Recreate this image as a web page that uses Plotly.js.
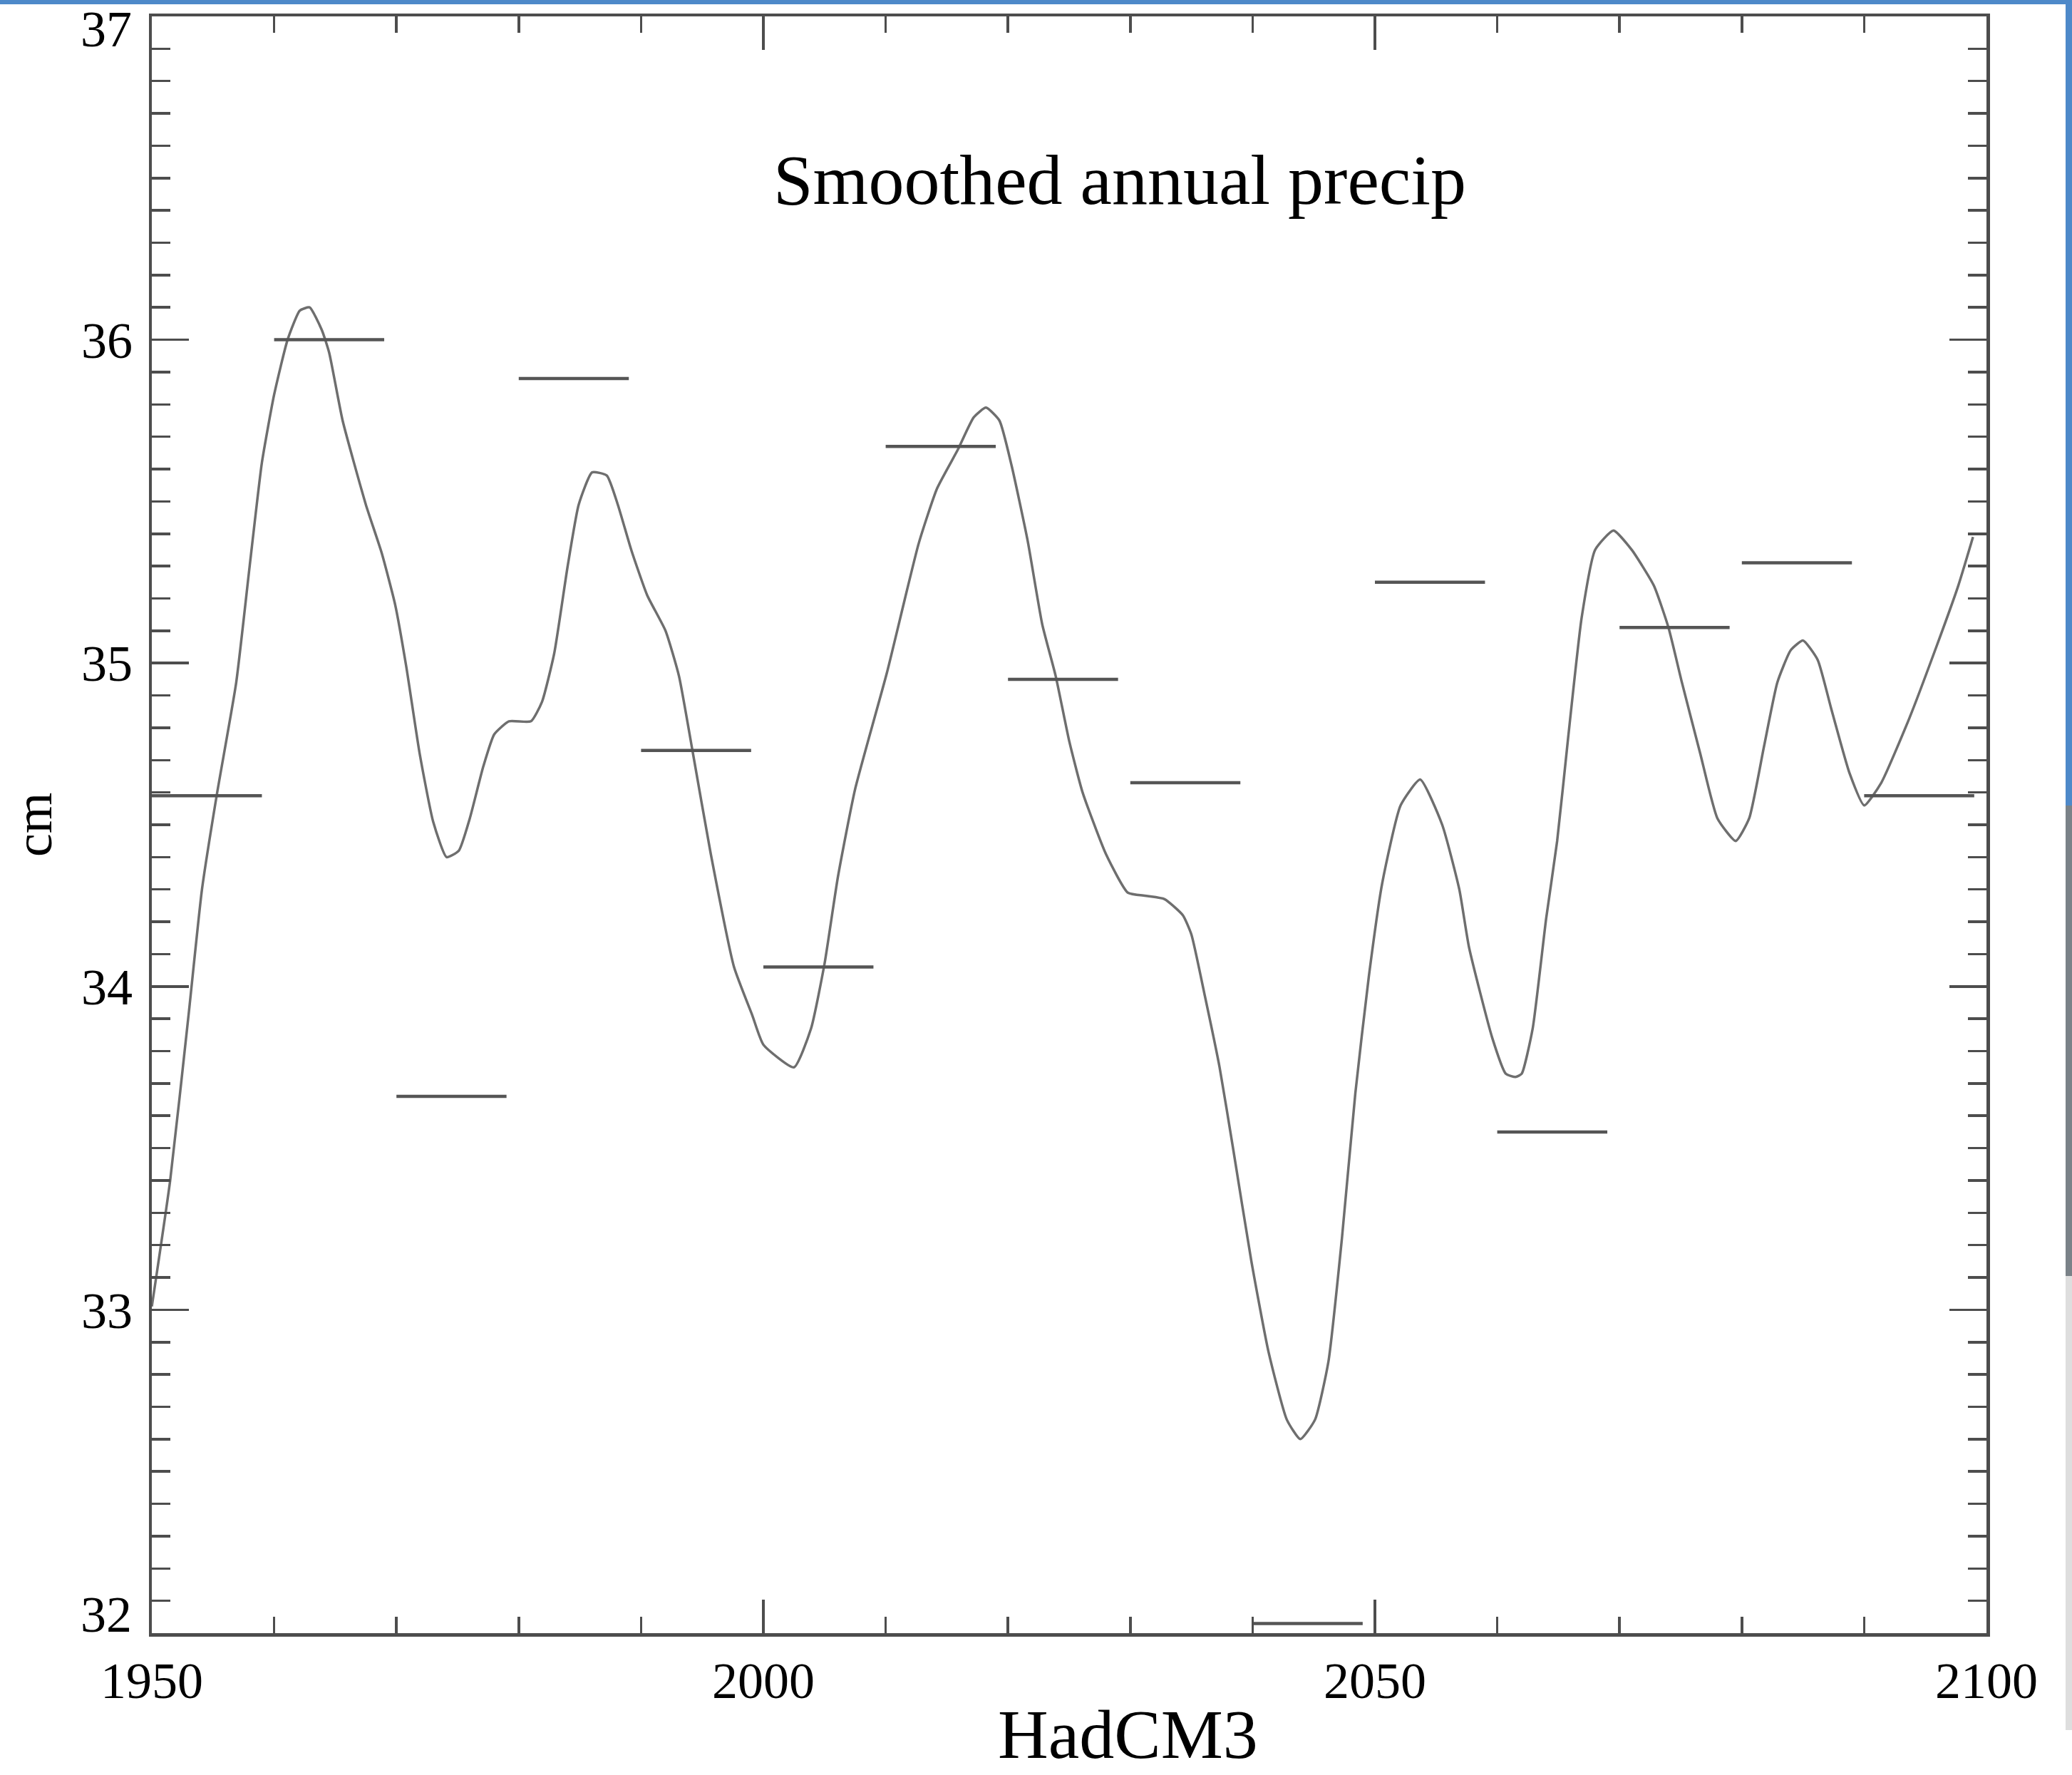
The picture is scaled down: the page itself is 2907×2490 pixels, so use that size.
<!DOCTYPE html>
<html>
<head>
<meta charset="utf-8">
<script src="https://cdn.plot.ly/plotly-3.0.1.min.js"></script>
<style>
  html, body { margin: 0; padding: 0; background: #ffffff; }
  #chart { width: 2907px; height: 2490px; }
</style>
</head>
<body>
<div id="chart"></div>
<script>
// Smoothed annual precipitation (cm), HadCM3 run, 1950-2100
const curveYears = [
  1950.0, 1951.5, 1953.0, 1954.1, 1955.3, 1956.9, 1958.0, 1959.0, 1960.0, 1961.1,
  1962.1, 1962.9, 1963.9, 1964.5, 1965.6, 1967.5, 1968.8, 1969.9, 1970.8, 1971.9,
  1973.0, 1974.1, 1975.1, 1976.0, 1977.1, 1978.0, 1979.2, 1981.0, 1981.9, 1982.9,
  1984.0, 1984.9, 1986.0, 1987.2, 1988.1, 1989.2, 1990.5, 1992.0, 1993.1, 1994.2,
  1995.7, 1997.6, 1999.1, 2000.0, 2002.5, 2003.9, 2005.0, 2006.1, 2007.5, 2010.1,
  2012.7, 2014.2, 2015.9, 2017.2, 2018.2, 2019.3, 2020.3, 2021.6, 2022.8, 2023.9,
  2025.0, 2026.1, 2028.0, 2029.8, 2031.3, 2032.8, 2034.3, 2035.0, 2036.1, 2037.3,
  2038.4, 2039.9, 2041.3, 2042.8, 2043.9, 2045.1, 2046.2, 2047.3, 2048.4, 2049.5,
  2050.6, 2052.1, 2053.7, 2055.5, 2056.9, 2057.7, 2059.6, 2060.7, 2061.5, 2062.0,
  2062.9, 2064.0, 2064.9, 2065.8, 2066.9, 2068.0, 2069.5, 2071.0, 2072.8, 2074.0,
  2075.1, 2076.6, 2078.0, 2079.5, 2080.6, 2081.8, 2082.9, 2084.0, 2085.0, 2086.2,
  2087.3, 2088.8, 2090.0, 2091.4, 2093.7, 2095.9, 2097.7, 2098.9
];
const curvePrecip = [
  33.01, 33.40, 33.91, 34.30, 34.59, 34.94, 35.30, 35.62, 35.83, 36.00,
  36.09, 36.10, 36.03, 35.96, 35.75, 35.49, 35.34, 35.18, 34.99, 34.72,
  34.51, 34.40, 34.42, 34.52, 34.68, 34.78, 34.82, 34.82, 34.88, 35.03,
  35.30, 35.49, 35.59, 35.58, 35.49, 35.35, 35.21, 35.10, 34.96, 34.73,
  34.41, 34.06, 33.91, 33.82, 33.75, 33.87, 34.07, 34.34, 34.61, 34.97,
  35.37, 35.54, 35.66, 35.76, 35.79, 35.75, 35.61, 35.38, 35.12, 34.96,
  34.76, 34.60, 34.41, 34.29, 34.28, 34.27, 34.22, 34.16, 33.97, 33.75,
  33.50, 33.15, 32.87, 32.66, 32.60, 32.66, 32.84, 33.22, 33.67, 34.03,
  34.32, 34.56, 34.64, 34.50, 34.30, 34.12, 33.84, 33.73, 33.72, 33.73,
  33.87, 34.21, 34.45, 34.77, 35.14, 35.35, 35.41, 35.35, 35.24, 35.11,
  34.94, 34.72, 34.52, 34.45, 34.52, 34.74, 34.94, 35.04, 35.07, 35.01,
  34.86, 34.66, 34.56, 34.63, 34.83, 35.05, 35.24, 35.39
];

// Decadal means, one per decade start year
const decadeStarts = [1950, 1960, 1970, 1980, 1990, 2000, 2010, 2020, 2030, 2040, 2050, 2060, 2070, 2080, 2090];
const decadeMeans  = [34.59, 36.00, 33.66, 35.88, 34.73, 34.06, 35.67, 34.95, 34.63, 32.03, 35.25, 33.55, 35.11, 35.31, 34.59];
const decadeSpan = 9;

// Axis labels
const xTickVals = [1950, 2000, 2050, 2100];
const xTickText = ['1950', '2000', '2050', '2100'];
const yTickVals = [33, 34, 35, 36];
const yTickText = ['33', '34', '35', '36'];
const yEndVals  = [37, 32];
const yEndText  = ['37', '32'];

const chartTitle = 'Smoothed annual precip';
const xTitle = 'HadCM3';
const yTitle = 'cm';

// Segments for the decadal means, separated by gaps
const segX = [], segY = [];
decadeStarts.forEach((d, i) => {
  segX.push(d, d + decadeSpan, null);
  segY.push(decadeMeans[i], decadeMeans[i], null);
});

const serif = 'Liberation Serif, Times New Roman, serif';
const axisColor = '#4d4d4d';

const traces = [
  {
    x: curveYears, y: curvePrecip, type: 'scatter', mode: 'lines',
    line: { color: '#6e6e6e', width: 3.5, shape: 'spline', smoothing: 0.5 },
    hoverinfo: 'skip', showlegend: false
  },
  {
    x: segX, y: segY, type: 'scatter', mode: 'lines',
    line: { color: '#555555', width: 4.5 },
    connectgaps: false, hoverinfo: 'skip', showlegend: false
  }
];

// Pixel helpers for decorative page edges, in paper units
const L = 213, R = 2787, T = 23, B = 2291, W = 2907, H = 2490;
const px = v => (v - L) / (R - L);
const py = v => (B - v) / (B - T);

const edgeShapes = [
  { type: 'rect', xref: 'paper', yref: 'paper', x0: px(0), x1: px(W), y0: py(0), y1: py(6), fillcolor: '#4e89c9', line: { width: 0 }, layer: 'above' },
  { type: 'rect', xref: 'paper', yref: 'paper', x0: px(2898), x1: px(W), y0: py(0), y1: py(1130), fillcolor: '#4e89c9', line: { width: 0 }, layer: 'above' },
  { type: 'rect', xref: 'paper', yref: 'paper', x0: px(2898), x1: px(W), y0: py(1130), y1: py(1790), fillcolor: '#7a8288', line: { width: 0 }, layer: 'above' },
  { type: 'rect', xref: 'paper', yref: 'paper', x0: px(2898), x1: px(W), y0: py(1790), y1: py(2427), fillcolor: '#dedede', line: { width: 0 }, layer: 'above' }
];

const annotations = [
  { text: chartTitle, xref: 'paper', yref: 'paper', x: px(1571), y: py(252), xanchor: 'center', yanchor: 'middle',
    showarrow: false, font: { family: serif, size: 100, color: '#000000' } },
  { text: xTitle, xref: 'paper', yref: 'paper', x: px(1582), y: py(2488), xanchor: 'center', yanchor: 'bottom',
    borderpad: 0, showarrow: false, font: { family: serif, size: 98, color: '#000000' } },
  { text: yTitle, xref: 'paper', yref: 'paper', x: px(47), y: py(1157), xanchor: 'center', yanchor: 'middle',
    textangle: -90, showarrow: false, font: { family: serif, size: 74, color: '#000000' } },
  { text: yEndText[0], xref: 'paper', yref: 'y', x: px(187), y: yEndVals[0], xanchor: 'right', yanchor: 'middle',
    yshift: -18, showarrow: false, font: { family: serif, size: 72, color: '#000000' } },
  { text: yEndText[1], xref: 'paper', yref: 'y', x: px(187), y: yEndVals[1], xanchor: 'right', yanchor: 'middle',
    yshift: 26, showarrow: false, font: { family: serif, size: 72, color: '#000000' } }
];

const layout = {
  width: W, height: H,
  margin: { l: L, r: W - R, t: T, b: H - B, pad: 0 },
  paper_bgcolor: '#ffffff', plot_bgcolor: '#ffffff',
  showlegend: false,
  xaxis: {
    range: [1950, 2100], showgrid: false, zeroline: false,
    showline: true, linecolor: axisColor, linewidth: 4.5, mirror: 'ticks',
    ticks: 'inside', ticklen: 47, tickwidth: 3.5, tickcolor: axisColor,
    tickmode: 'array', tickvals: xTickVals, ticktext: xTickText,
    tickfont: { family: serif, size: 72, color: '#000000' },
    ticklabelstandoff: 0,
    minor: { dtick: 10, ticks: 'inside', ticklen: 23, tickwidth: 3.5, tickcolor: axisColor, showgrid: false }
  },
  yaxis: {
    range: [32, 37], showgrid: false, zeroline: false,
    showline: true, linecolor: axisColor, linewidth: 4.5, mirror: 'ticks',
    ticks: 'inside', ticklen: 52, tickwidth: 3.5, tickcolor: axisColor,
    tickmode: 'array', tickvals: yTickVals, ticktext: yTickText,
    tickfont: { family: serif, size: 72, color: '#000000' },
    ticklabelstandoff: 8,
    minor: { tick0: 32, dtick: 0.1, ticks: 'inside', ticklen: 26, tickwidth: 3.5, tickcolor: axisColor, showgrid: false }
  },
  shapes: edgeShapes,
  annotations: annotations
};

Plotly.newPlot('chart', traces, layout, { staticPlot: true, displayModeBar: false });
</script>
</body>
</html>
